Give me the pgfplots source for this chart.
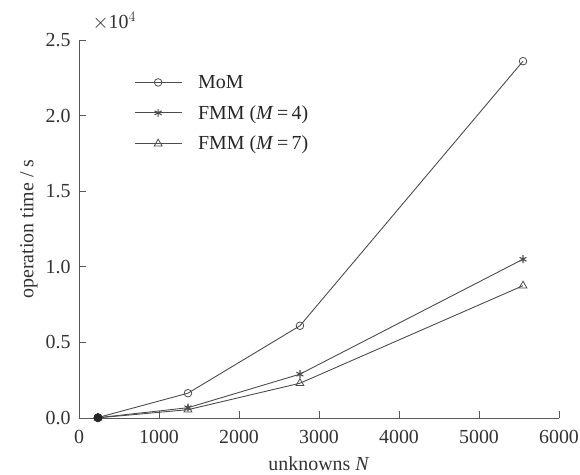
\documentclass[border=0pt]{standalone}
\usepackage{fontspec}
\setmainfont{Liberation Serif}
\usepackage{pgfplots}
\pgfplotsset{compat=1.18}

\begin{document}
\begin{tikzpicture}[x=1bp,y=1bp]
\path[use as bounding box] (0,0) rectangle (580,475);
\begin{axis}[
  at={(79bp,57bp)}, anchor=south west,
  scale only axis, width=480bp, height=378bp,
  xmin=0, xmax=6000, ymin=0, ymax=25000,
  axis lines*=left,
  axis line style={black!65, line width=0.9pt},
  tick style={black!65, line width=0.9pt},
  tick align=inside, major tick length=7bp,
  xtick={0,1000,...,6000},
  ytick={0,5000,10000,15000,20000,25000},
  yticklabels={0.0,0.5,1.0,1.5,2.0,2.5},
  scaled x ticks=false, scaled y ticks=false,
  xticklabel style={/pgf/number format/1000 sep={}, yshift=-9bp},
  yticklabel style={xshift=-5bp},
  /pgf/number format/assume math mode=true,
  font=\fontsize{20}{24}\selectfont,
  every tick label/.append style={black!80},
  xlabel={unknowns \textit{N}},
  ylabel={operation time / s},
  xlabel style={black!80, yshift=-6bp},
  ylabel style={black!80, yshift=1bp},
  legend style={at={(52bp,347bp)}, anchor=north west, draw=none, fill=none,
    font=\fontsize{20}{24}\selectfont, row sep=11.5bp, text=black!85,
    /tikz/every odd column/.style={column sep=14bp}},
  legend cell align=left,
  legend image code/.code={
    \draw[#1] (0bp,0bp) -- (47bp,0bp);
    \draw[#1, mark repeat=1] plot coordinates {(23.5bp,0bp)};
  },
  every axis plot/.append style={black!70, line width=0.9pt},
  clip=false,
]
\addplot[mark=o, mark size=3.8bp, mark options={line width=0.8pt}]
  coordinates {(237,30) (1362,1640) (2762,6100) (5550,23600)};
\addlegendentry{MoM}
\addplot[mark=asterisk, mark size=4bp, mark options={line width=1.1pt}]
  coordinates {(237,20) (1362,680) (2762,2900) (5550,10500)};
\addlegendentry{FMM (\textit{M}\,=\,4)}
\addplot[mark=triangle, mark size=4.5bp, mark options={line width=0.8pt}]
  coordinates {(237,10) (1362,550) (2762,2300) (5550,8750)};
\addlegendentry{FMM (\textit{M}\,=\,7)}
\addplot[only marks, mark=*, mark size=4bp, black!85, forget plot]
  coordinates {(237,15)};
\node[anchor=south west, black!80, font=\fontsize{20}{24}\selectfont, inner sep=0pt]
  at (rel axis cs:0.028,1.025) {$\times$10$^{4}$};
\end{axis}
\end{tikzpicture}
\end{document}
